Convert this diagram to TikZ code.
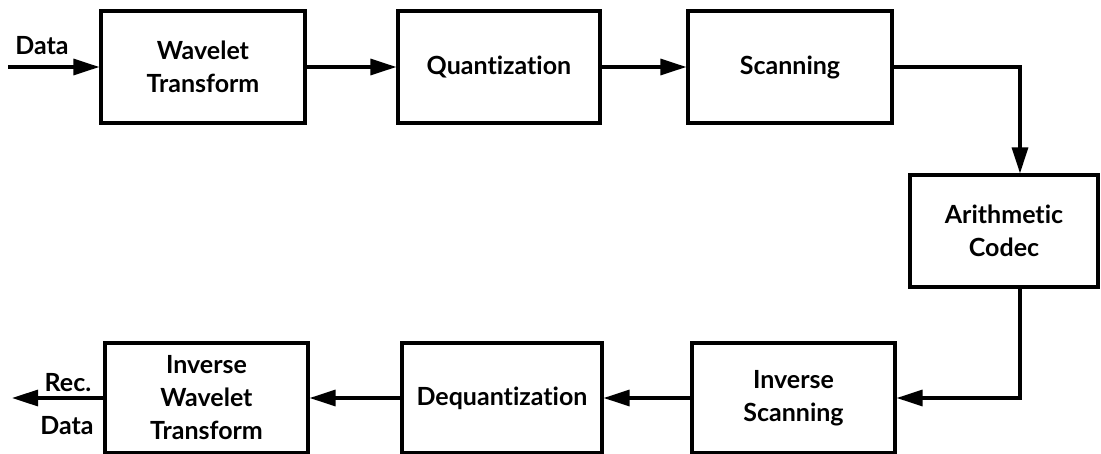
\documentclass[tikz,border=0pt]{standalone}
\usepackage{fontspec}
\setmainfont{Lato}[Ligatures=NoCommon]
\usetikzlibrary{arrows.meta}
\begin{document}
\begin{tikzpicture}[x=1pt,y=-1pt,
  block/.style={draw, line width=3.2pt, rectangle, align=center, inner sep=0pt,
    font=\fontsize{25}{33}\selectfont\bfseries},
  flow/.style={line width=3.2pt, -{Triangle[length=26pt,width=16pt]}},
  lbl/.style={font=\fontsize{25}{33}\selectfont\bfseries, inner sep=0pt}]
\useasboundingbox (0,0) rectangle (1101,453);
% upper row
\node[block, minimum width=204pt, minimum height=112pt] (wt) at (203,67) {Wavelet\\Transform};
\node[block, minimum width=202pt, minimum height=112pt] (qz) at (499,67) {Quantization};
\node[block, minimum width=204pt, minimum height=112pt] (sc) at (790,67) {Scanning};
% right side
\node[block, minimum width=188pt, minimum height=112pt] (ac) at (1004,231) {Arithmetic\\Codec};
% lower row
\node[block, minimum width=203pt, minimum height=110pt] (is) at (793.5,398) {Inverse\\Scanning};
\node[block, minimum width=200pt, minimum height=110pt] (dq) at (502,398) {Dequantization};
\node[block, minimum width=203pt, minimum height=110pt] (iw) at (206.5,398) {Inverse\\Wavelet\\Transform};
% free ends
\coordinate (in) at (8,67);
\coordinate (out) at (12,398);
\coordinate (c1) at (1020,67);
\coordinate (c2) at (1020,398);
% labels
\node[lbl] (ldata) at (42,46) {Data};
\node[lbl] (lrec) at (68,383) {Rec.};
\node[lbl] (lrdata) at (67,426) {Data};
% connectors
\draw[flow] (in) -- (wt.west);
\draw[flow] (wt.east) -- (qz.west);
\draw[flow] (qz.east) -- (sc.west);
\draw[flow] (sc.east) -- (c1) -- (ac.north -| c1);
\draw[flow] (ac.south -| c2) -- (c2) -- (is.east);
\draw[flow] (is.west) -- (dq.east);
\draw[flow] (dq.west) -- (iw.east);
\draw[flow] (iw.west) -- (out);
\end{tikzpicture}
\end{document}
